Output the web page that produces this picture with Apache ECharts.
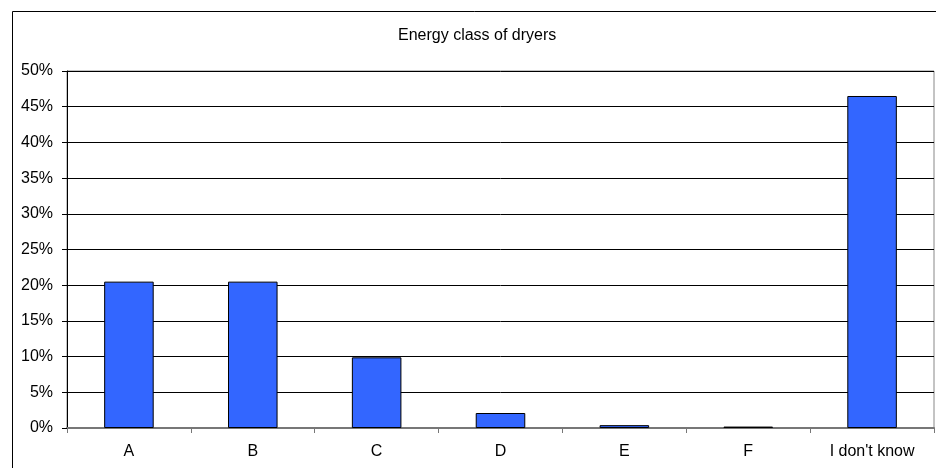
<!DOCTYPE html>
<html>
<head>
<meta charset="utf-8">
<script src="https://cdn.jsdelivr.net/npm/echarts@6/dist/echarts.min.js"></script>
<style>html,body{margin:0;padding:0;background:#fff}#c{width:936px;height:468px}</style>
</head>
<body>
<div id="c"></div>
<script>
var categories = ['A', 'B', 'C', 'D', 'E', 'F', "I don't know"];
var values = [20.5, 20.5, 9.9, 2.1, 0.4, 0.2, 46.5];
var titleText = 'Energy class of dryers';

var chart = echarts.init(document.getElementById('c'));
chart.setOption({
  animation: false,
  textStyle: { fontFamily: 'Liberation Sans, Arial, sans-serif' },
  title: {
    text: titleText, left: 393, top: 23,
    textStyle: { fontSize: 16, fontWeight: 'normal', color: '#000', fontFamily: 'Liberation Sans, Arial, sans-serif' }
  },
  graphic: [{
    type: 'rect', shape: { x: 12.5, y: 11.5, width: 940, height: 480 },
    style: { fill: 'none', stroke: '#000', lineWidth: 1 }, z: -1
  }],
  grid: { left: 67, right: 2, top: 71, bottom: 40, show: true, borderColor: '#888', borderWidth: 1 },
  xAxis: {
    type: 'category', data: categories,
    axisLine: { lineStyle: { color: '#777', width: 2 } },
    axisTick: { show: true, length: 5, lineStyle: { color: '#777' } },
    axisLabel: { color: '#000', fontSize: 16, margin: 16 }
  },
  yAxis: {
    type: 'value', min: 0, max: 50, interval: 5,
    axisLine: { show: true, lineStyle: { color: '#000' } },
    axisTick: { show: true, length: 5, lineStyle: { color: '#000' } },
    axisLabel: { color: '#000', fontSize: 16, margin: 14, formatter: '{value}%' },
    splitLine: { lineStyle: { color: '#000', width: 1 } }
  },
  series: [{
    type: 'bar', data: values, barWidth: '40%',
    itemStyle: { color: '#3366FF', borderColor: '#000', borderWidth: 1 }
  }]
});
</script>
</body>
</html>
